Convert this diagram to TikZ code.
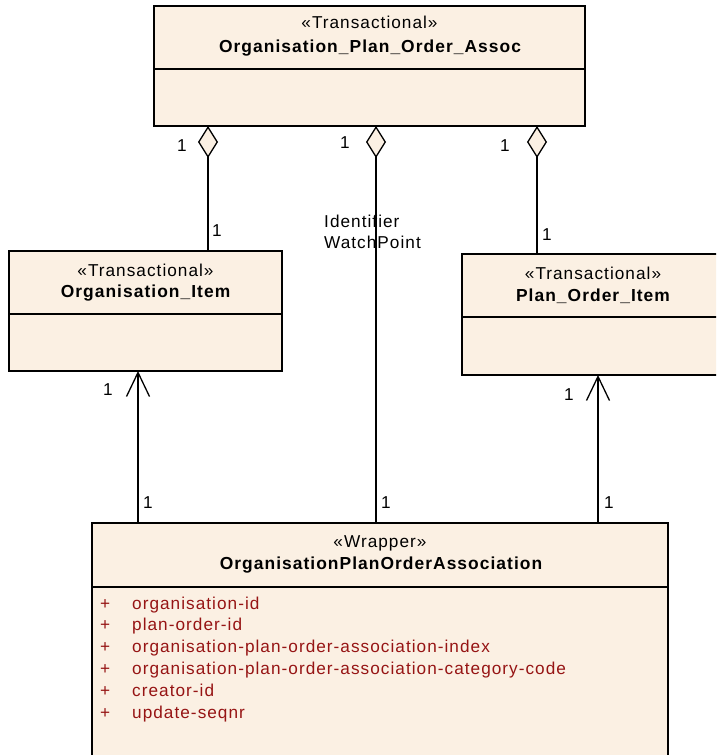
\documentclass[tikz,border=0pt]{standalone}
\usepackage{fontspec}
\setmainfont{Liberation Sans}
\newfontfamily\umlfont[LetterSpace=6]{Liberation Sans}
\usetikzlibrary{arrows.meta}
\definecolor{boxfill}{RGB}{251,240,227}
\definecolor{attrred}{RGB}{150,20,20}
\tikzset{
  umlbox/.style={draw=black, line width=1.3pt, fill=boxfill},
  sepline/.style={draw=black, line width=1.3pt},
  conn/.style={draw=black, line width=1.3pt},
  txt/.style={inner sep=0pt, font=\umlfont\fontsize{17.2}{20}\selectfont},
  ster/.style={txt},
  ttl/.style={txt, font=\umlfont\fontsize{17.4}{20}\selectfont\bfseries},
  mult/.style={txt},
  attr/.style={txt, text=attrred, anchor=base west},
  agg/.style={{Diamond[length=32pt,width=20pt,fill=boxfill,line width=1.3pt]}-},
  nav/.style={-{Straight Barb[length=24pt,width=23pt,line width=1.3pt]}},
}
\begin{document}
\begin{tikzpicture}[x=1pt,y=-1pt]
\useasboundingbox (0,0) rectangle (716,755);
\clip (0,0) rectangle (716,755);
\fill[white] (0,0) rectangle (716,755);

% top box
\path[umlbox] (154,6) rectangle (585,126);
\draw[sepline] (154,69) -- (585,69);
\node[ster] (topst) at (369.5,22) {«Transactional»};
\node[ttl] (topti) at (370,48) {Organisation\_Plan\_Order\_Assoc};

% left box
\path[umlbox] (9,251) rectangle (282,371);
\draw[sepline] (9,314) -- (282,314);
\node[ster] (leftst) at (145.5,270) {«Transactional»};
\node[ttl] (leftti) at (145.5,293) {Organisation\_Item};

% right box
\path[umlbox] (462,254) rectangle (724,375);
\draw[sepline] (462,317) -- (724,317);
\node[ster] (rightst) at (593,273) {«Transactional»};
\node[ttl] (rightti) at (593,296) {Plan\_Order\_Item};

% bottom box
\path[umlbox] (92,523) rectangle (668,775);
\draw[sepline] (92,587) -- (668,587);
\node[ster] (botst) at (380,543) {«Wrapper»};
\node[ttl] (botti) at (381,565) {OrganisationPlanOrderAssociation};

\foreach \i/\t [count=\k] in {0/organisation-id,1/plan-order-id,2/organisation-plan-order-association-index,3/organisation-plan-order-association-category-code,4/creator-id,5/update-seqnr}{
  \node[attr] (plus\k) at (100,609+21.8*\i) {+};
  \node[attr] (attr\k) at (132,609+21.8*\i) {\t};
}

% attachment coordinates
\coordinate (tA) at (208,126);
\coordinate (tB) at (376,126);
\coordinate (tC) at (537,126);
\coordinate (lTop) at (208,251);
\coordinate (rTop) at (537,254);
\coordinate (bB) at (376,523);
\coordinate (bL) at (138,523);
\coordinate (bR) at (598,523);
\coordinate (lBot) at (138,371);
\coordinate (rBot) at (598,375);

\draw[conn, agg] (tA) -- (lTop);
\draw[conn, agg] (tB) -- (bB);
\draw[conn, agg] (tC) -- (rTop);
\draw[conn, nav] (bL) -- (lBot);
\draw[conn, nav] (bR) -- (rBot);

% multiplicities
\node[mult] (m1) at (182,146) {1};
\node[mult] (m2) at (345,143) {1};
\node[mult] (m3) at (505,146) {1};
\node[mult] (m4) at (217,231) {1};
\node[mult] (m5) at (547,235) {1};
\node[mult] (m6) at (108,390) {1};
\node[mult] (m7) at (569,395) {1};
\node[mult] (m8) at (148,503) {1};
\node[mult] (m9) at (386,503) {1};
\node[mult] (m10) at (609,503) {1};

% role label
\node[txt, anchor=west] (role1) at (324,221) {Identifier};
\node[txt, anchor=west] (role2) at (324,242) {WatchPoint};
\end{tikzpicture}
\end{document}
